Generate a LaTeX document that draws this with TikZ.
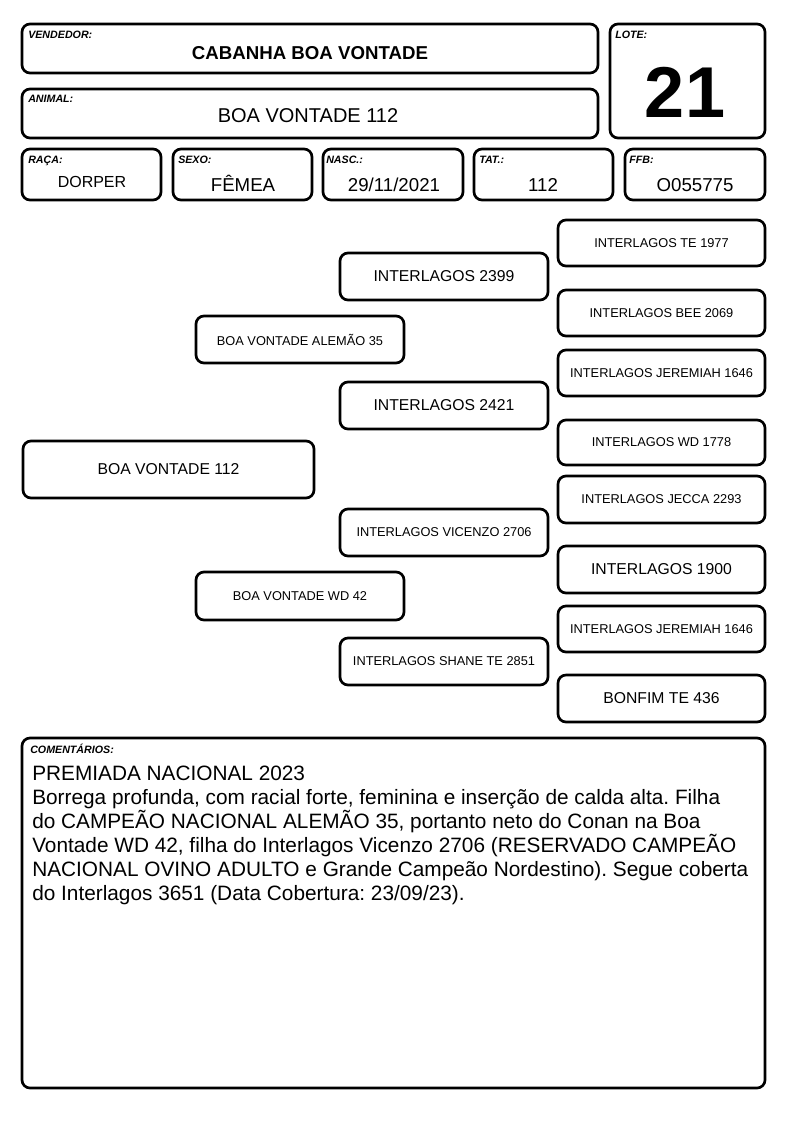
\documentclass[tikz,border=0pt]{standalone}
\usepackage{fontspec}
\setmainfont{Liberation Sans}
\frenchspacing
\newcommand\bx[7]{\node[box, minimum width={(#4-#2)*0.75pt}, minimum height={(#5-#3)*0.75pt}, font=#6] (#1) at ({(#2+#4)/2},{(#3+#5)/2}) {#7};}
\newcommand\fs[1]{\fontsize{#1}{#1}\selectfont}
\begin{document}
\begin{tikzpicture}[x=0.75pt,y=-0.75pt,
  box/.style={draw, line width=2pt, rounded corners=6pt, inner sep=0pt, align=center},
  lab/.style={anchor=base west, inner sep=0pt, font=\fs{8}\bfseries\itshape},
  val/.style={anchor=base, inner sep=0pt},
]
\useasboundingbox[fill=white] (0,0) rectangle (794,1123);
% header boxes
\bx{vend}{22}{24}{598}{73}{\fs{8}}{}
\bx{anim}{22}{89}{598}{138}{\fs{8}}{}
\bx{lote}{610}{24}{765}{138}{\fs{8}}{}
\bx{raca}{22}{149}{161}{200}{\fs{8}}{}
\bx{sexo}{173}{149}{312}{200}{\fs{8}}{}
\bx{nasc}{323}{149}{463}{200}{\fs{8}}{}
\bx{tat}{474}{149}{613}{200}{\fs{8}}{}
\bx{ffb}{625}{149}{765}{200}{\fs{8}}{}
% labels
\node[lab] (lvend) at (28,39) {VENDEDOR:};
\node[lab] (lanim) at (28,103) {ANIMAL:};
\node[lab] (llote) at (615,39) {LOTE:};
\node[lab] (lraca) at (28,164) {RAÇA:};
\node[lab] (lsexo) at (178,164) {SEXO:};
\node[lab] (lnasc) at (326,164) {NASC.:};
\node[lab] (ltat) at (479,164) {TAT.:};
\node[lab] (lffb) at (629,164) {FFB:};
% values
\node[val, font=\fs{14}\bfseries] (vvend) at (310,60) {CABANHA BOA VONTADE};
\node[val, font=\fs{15}] (vanim) at (308,123) {BOA VONTADE 112};
\node[val, font=\fs{54}\bfseries] (vlote) at (685,118) {21};
\node[val, font=\fs{12}] (vraca) at (92,188) {DORPER};
\node[val, font=\fs{14}] (vsexo) at (243,192) {FÊMEA};
\node[val, font=\fs{14}] (vnasc) at (394,192) {29/11/2021};
\node[val, font=\fs{14}] (vtat) at (543,192) {112};
\node[val, font=\fs{14}] (vffb) at (695,192) {O055775};
% pedigree
\bx{p112}{23}{441}{314}{498}{\fs{11.8}}{BOA VONTADE 112}
\bx{alemao}{196}{316}{404}{363}{\fs{9.6}}{BOA VONTADE ALEMÃO 35}
\bx{wd42}{196}{572}{404}{620}{\fs{9.6}}{BOA VONTADE WD 42}
\bx{i2399}{340}{253}{548}{300}{\fs{11.8}}{INTERLAGOS 2399}
\bx{i2421}{340}{382}{548}{429}{\fs{11.8}}{INTERLAGOS 2421}
\bx{vicenzo}{340}{509}{548}{556}{\fs{9.6}}{INTERLAGOS VICENZO 2706}
\bx{shane}{340}{638}{548}{685}{\fs{9.6}}{INTERLAGOS SHANE TE 2851}
\bx{te1977}{558}{220}{765}{266}{\fs{9.6}}{INTERLAGOS TE 1977}
\bx{bee}{558}{290}{765}{336}{\fs{9.6}}{INTERLAGOS BEE 2069}
\bx{jer1}{558}{350}{765}{396}{\fs{9.6}}{INTERLAGOS JEREMIAH 1646}
\bx{wd1778}{558}{420}{765}{465}{\fs{9.6}}{INTERLAGOS WD 1778}
\bx{jecca}{558}{476}{765}{523}{\fs{9.6}}{INTERLAGOS JECCA 2293}
\bx{i1900}{558}{546}{765}{593}{\fs{11.8}}{INTERLAGOS 1900}
\bx{jer2}{558}{606}{765}{652}{\fs{9.6}}{INTERLAGOS JEREMIAH 1646}
\bx{bonfim}{558}{675}{765}{722}{\fs{11.8}}{BONFIM TE 436}
% comments
\bx{com}{22}{738}{765}{1088}{\fs{8}}{}
\node[lab] (lcom) at (30,753) {COMENTÁRIOS:};
\node[anchor=base west, inner sep=0pt, align=left, font=\fontsize{15.6}{18}\selectfont] (tcom) at (32,900) {PREMIADA NACIONAL 2023\\
Borrega profunda, com racial forte, feminina e inserção de calda alta. Filha\\
do CAMPEÃO NACIONAL ALEMÃO 35, portanto neto do Conan na Boa\\
Vontade WD 42, filha do Interlagos Vicenzo 2706 (RESERVADO CAMPEÃO\\
NACIONAL OVINO ADULTO e Grande Campeão Nordestino). Segue coberta\\
do Interlagos 3651 (Data Cobertura: 23/09/23).};
\end{tikzpicture}
\end{document}
